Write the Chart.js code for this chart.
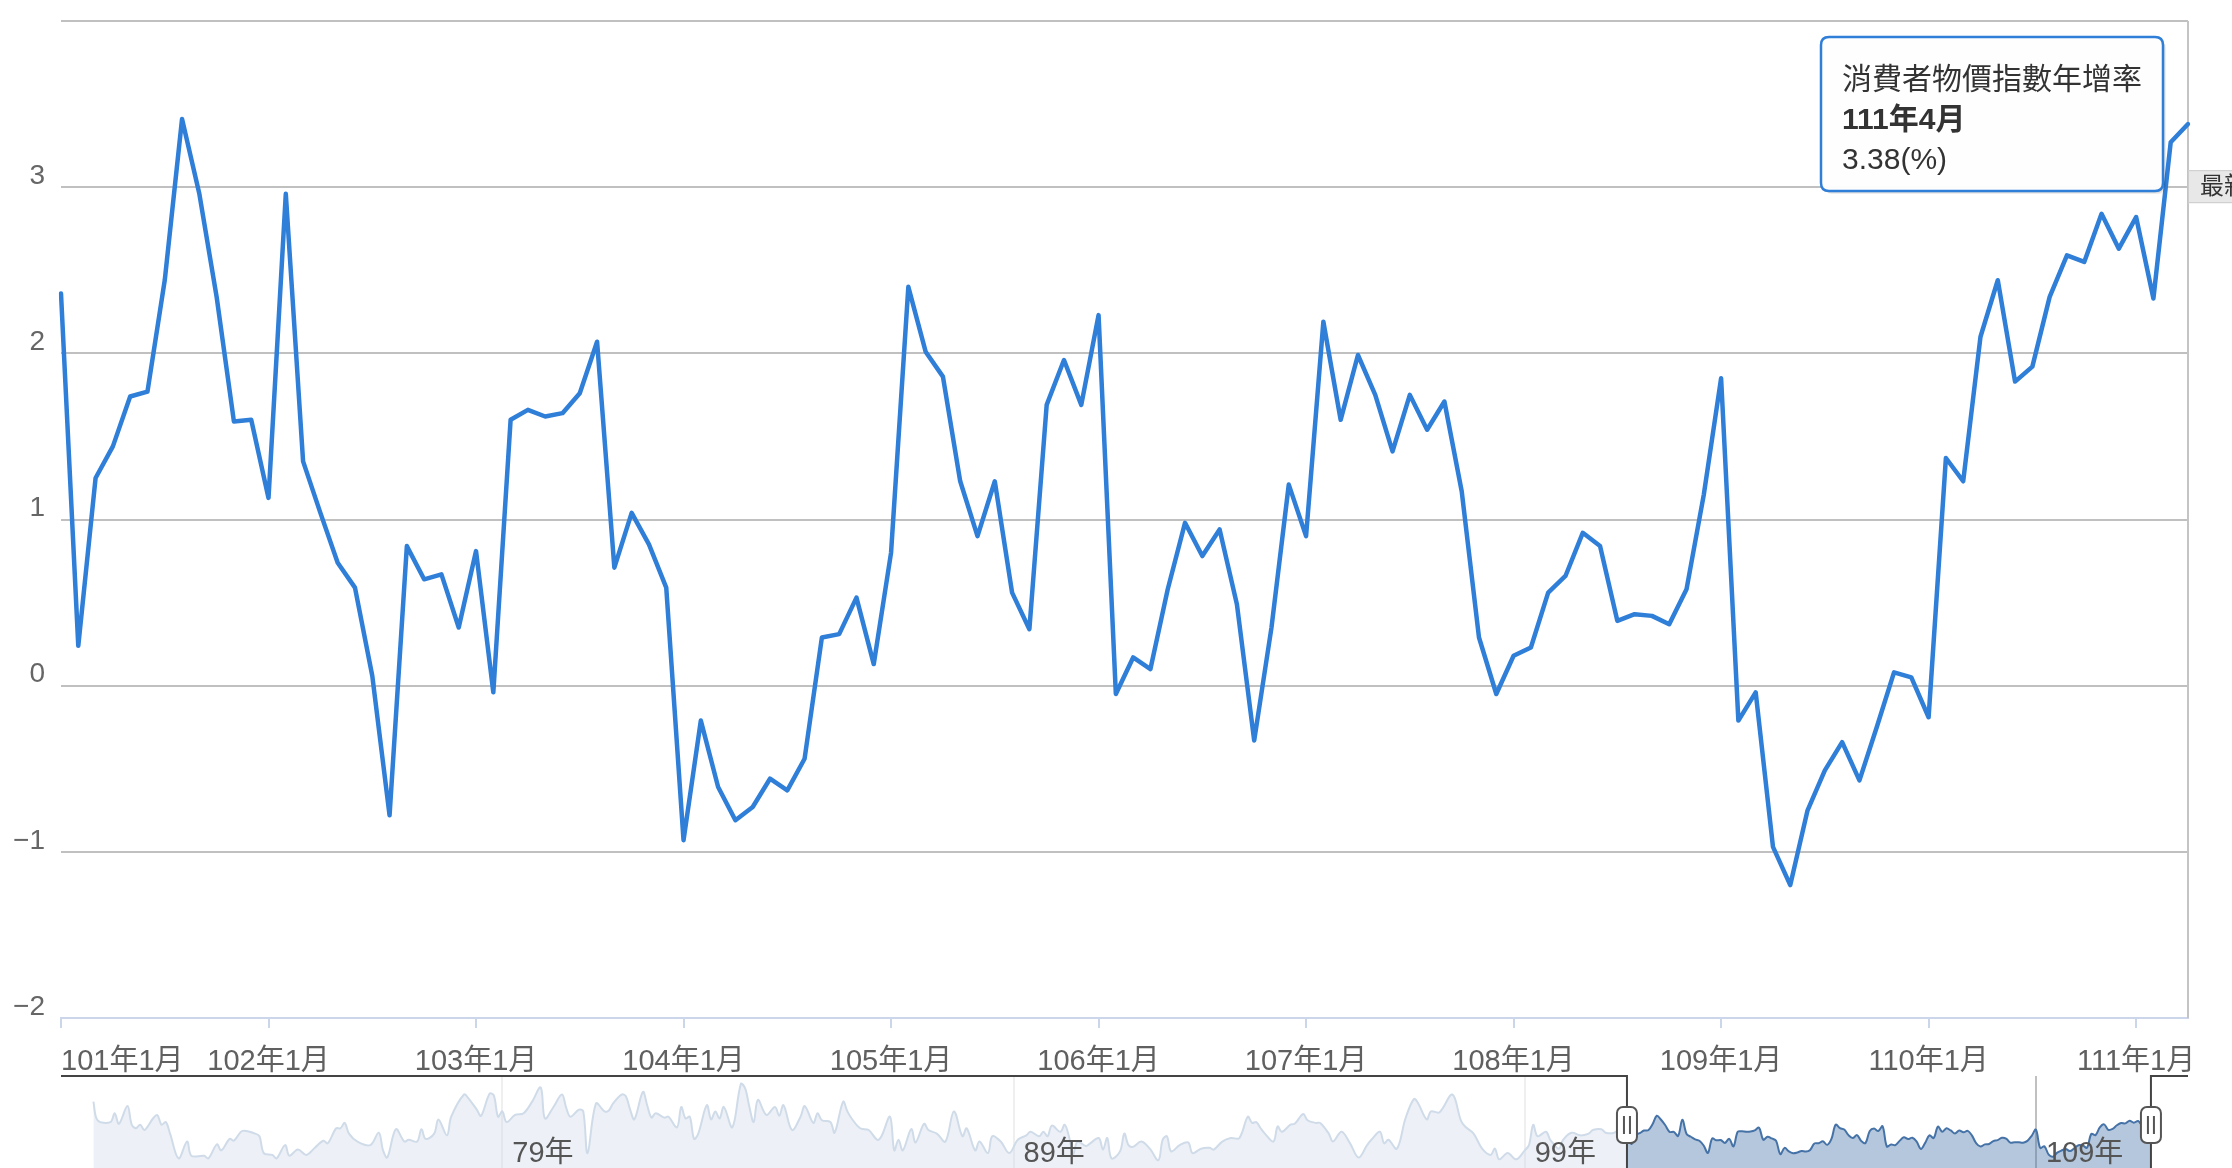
<!DOCTYPE html>
<html lang="zh-Hant">
<head>
<meta charset="utf-8">
<title>消費者物價指數年增率</title>
<script src="https://cdn.jsdelivr.net/npm/chart.js@4.4.1/dist/chart.umd.min.js"></script>
<style>
    html, body { margin: 0; padding: 0; background: #fff; overflow: hidden; }
    #wrap { position: relative; width: 2232px; height: 1168px; }
    canvas { display: block; position: absolute; left: 0; }
    #mainChart { top: 0; }
    #navChart { top: 1070px; }
</style>
</head>
<body>
<div id="wrap">
    <canvas id="mainChart" width="2232" height="1076"></canvas>
    <canvas id="navChart" width="2232" height="110"></canvas>
</div>
<script>
// --- Data ---
const seriesName = '消費者物價指數年增率';
const firstYear = 101; // 民國年

// monthly YoY (%), 101年1月 .. 111年4月
const cpiYoY = [
    2.36, 0.24, 1.25, 1.44, 1.74, 1.77, 2.44, 3.41, 2.96, 2.34, 1.59, 1.60,
    1.13, 2.96, 1.35, 1.04, 0.74, 0.59, 0.06, -0.78, 0.84, 0.64, 0.67, 0.35,
    0.81, -0.04, 1.60, 1.66, 1.62, 1.64, 1.76, 2.07, 0.71, 1.04, 0.85, 0.59,
    -0.93, -0.21, -0.61, -0.81, -0.73, -0.56, -0.63, -0.44, 0.29, 0.31, 0.53, 0.13,
    0.80, 2.40, 2.01, 1.86, 1.23, 0.90, 1.23, 0.56, 0.34, 1.69, 1.96, 1.69,
    2.23, -0.05, 0.17, 0.10, 0.58, 0.98, 0.78, 0.94, 0.49, -0.33, 0.35, 1.21,
    0.90, 2.19, 1.60, 1.99, 1.75, 1.41, 1.75, 1.54, 1.71, 1.17, 0.29, -0.05,
    0.18, 0.23, 0.56, 0.66, 0.92, 0.84, 0.39, 0.43, 0.42, 0.37, 0.58, 1.15,
    1.85, -0.21, -0.04, -0.97, -1.20, -0.75, -0.51, -0.34, -0.57, -0.25, 0.08, 0.05,
    -0.19, 1.37, 1.23, 2.10, 2.44, 1.83, 1.92, 2.34, 2.59, 2.55, 2.84, 2.63,
    2.82, 2.33, 3.27, 3.38
];

const xTickIdx = [0, 12, 24, 36, 48, 60, 72, 84, 96, 108, 120, 123];
const xTickLabels = ['101年1月', '102年1月', '103年1月', '104年1月', '105年1月', '106年1月',
    '107年1月', '108年1月', '109年1月', '110年1月', '111年1月', ''];
const yTicks = [-2, -1, 0, 1, 2, 3, 4];
const yTickLabels = ['\u22122', '\u22121', '0', '1', '2', '3', ''];

// navigator: months counted from 71年1月, values
const navHistMonths = [
    0, 1, 4, 5, 6, 8, 9, 10, 11, 12,
    14, 15, 16, 17, 18, 20, 22, 23, 26, 27,
    29, 30, 32, 33, 35, 38, 39, 40, 42, 43,
    45, 46, 48, 50, 52, 54, 55, 57, 58, 59,
    60, 62, 65, 67, 68, 69, 71, 73, 74, 76,
    77, 78, 80, 81, 83, 84, 87, 88, 90, 91,
    93, 94, 95, 96, 97, 99, 101, 103, 105, 106,
    108, 110, 111, 112, 114, 115, 116, 118, 120, 121,
    122, 124, 125, 126, 127, 129, 130, 131, 132, 134,
    135, 137, 138, 139, 140, 141, 142, 144, 145, 146,
    147, 148, 150, 152, 153, 154, 155, 156, 158, 160,
    161, 162, 164, 166, 167, 169, 170, 171, 173, 174,
    176, 177, 178, 180, 182, 184, 185, 187, 188, 189,
    190, 192, 193, 195, 196, 198, 200, 202, 204, 205,
    207, 208, 210, 211, 213, 215, 217, 219, 220, 222,
    223, 224, 225, 227, 228, 229, 230, 231, 233, 234,
    236, 237, 238, 239, 241, 242, 243, 244, 246, 248,
    250, 251, 252, 253, 255, 257, 258, 260, 262, 263,
    265, 267, 269, 271, 272, 273, 274, 275, 277, 278,
    279, 281, 282, 284, 285, 287, 288, 290, 291, 293,
    295, 297, 299, 300, 302, 303, 304, 306, 308, 310,
    311, 313, 314, 316, 319, 321, 322, 324, 326, 328,
    329, 330, 332, 334, 336, 337, 338, 339, 341, 342,
    344, 345, 347, 349, 351, 352, 354, 355, 357
];
const navHistValues = [
    5.0, 2.9, 2.7, 3.7, 2.5, 4.5, 2.4, 2.0, 2.4, 1.8,
    3.1, 3.5, 2.4, 2.7, 1.4, -1.4, 0.5, -1.1, -1.1, -1.4,
    0.2, -0.5, 0.8, 0.6, 1.7, 1.4, 1.1, -0.8, -1.0, -1.4,
    0.1, -1.1, -0.4, -1.0, -0.2, 0.6, 0.3, 2.0, 2.0, 2.6,
    1.4, 0.5, 0.1, 1.5, -0.5, -1.3, 1.9, 0.5, 0.7, 0.5,
    1.9, 0.8, 1.4, 3.0, 1.2, 3.3, 5.8, 5.4, 4.1, 3.4,
    5.9, 5.7, 3.3, 3.9, 2.7, 3.5, 3.7, 5.0, 6.6, 3.1,
    4.4, 5.8, 4.3, 3.3, 4.1, 3.9, -0.8, 4.8, 3.9, 4.0,
    4.8, 5.8, 5.6, 4.1, 3.0, 6.1, 4.6, 3.2, 3.7, 3.2,
    3.3, 2.1, 4.4, 3.1, 3.3, 0.8, 1.4, 4.6, 3.0, 3.9,
    3.1, 4.4, 2.1, 7.0, 6.5, 4.4, 2.7, 5.2, 3.5, 4.4,
    3.4, 4.6, 1.8, 3.3, 4.5, 2.6, 3.7, 2.9, 2.7, 1.5,
    5.0, 3.9, 3.1, 2.0, 1.8, 0.7, 1.1, 3.3, -0.5, 0.7,
    -0.5, 1.9, 0.4, 2.5, 1.8, 1.4, 0.5, 3.9, 1.1, 2.0,
    -0.5, 0.5, -0.8, 1.1, 0.5, -0.8, 0.7, 1.2, 1.6, 1.1,
    1.6, 1.1, 2.3, 1.6, 2.4, 1.1, -0.9, 0.5, 0.0, 0.3,
    0.9, -0.4, 0.9, -1.4, -0.6, 1.4, 0.1, -0.1, 0.5, -0.3,
    -1.6, 0.7, 1.1, -0.6, 0.1, 0.4, -0.8, -0.3, -0.2, -0.4,
    0.5, 0.9, 0.9, 3.3, 2.6, 2.7, 2.0, 1.4, 0.5, 2.2,
    1.6, 2.4, 2.5, 3.6, 2.9, 2.6, 2.6, 1.4, 0.5, 1.6,
    0.3, -1.3, 0.1, 0.7, 1.6, 0.3, 0.7, -0.3, 3.1, 5.3,
    4.8, 3.0, 3.9, 3.8, 5.8, 2.9, 2.2, 1.4, -0.3, -1.0,
    -0.3, -1.5, -0.8, -1.5, -0.5, 0.1, 2.4, 1.1, 1.6, 0.7,
    -0.3, 0.7, 1.5, 1.2, 1.4, 1.8, 1.9, 1.5, 1.5
];
const navSelStart = 360; // 101年1月 counted from 71年1月
const navTickMonths = [96, 216, 336, 456];
const navTickLabels = ['79年', '89年', '99年', '109年'];

// --- Shared styles ---
const FONT = '"Liberation Sans", "Noto Sans CJK TC", sans-serif';
const LINE_BLUE = '#2f7ed8';
const NAV_BLUE = '#4572a7';

const monthLabels = cpiYoY.map((_, i) => `${firstYear + Math.floor(i / 12)}年${i % 12 + 1}月`);

// --- Main chart ---
Chart.Tooltip.positioners.besidePoint = function (items) {
    if (!items.length) return false;
    const el = items[0].element;
    return { x: el.x, y: el.y - 10 };
};

const mainDecor = {
    id: 'mainDecor',
    beforeDatasetsDraw(chart) {
        const { ctx, chartArea } = chart;
        // right frame line
        ctx.save();
        ctx.strokeStyle = '#c4c4c4';
        ctx.lineWidth = 2;
        ctx.beginPath();
        ctx.moveTo(chartArea.right, chartArea.top);
        ctx.lineTo(chartArea.right, chartArea.bottom);
        ctx.stroke();
        ctx.restore();
    },
    afterDraw(chart) {
        const { ctx, chartArea } = chart;
        // "最新" flag on the right edge
        const yc = chart.scales.y.getPixelForValue(3) - 1;
        ctx.save();
        ctx.fillStyle = '#e8e8e8';
        ctx.strokeStyle = '#cccccc';
        ctx.lineWidth = 1;
        ctx.fillRect(chartArea.right, yc - 16, 80, 33);
        ctx.strokeRect(chartArea.right + 0.5, yc - 16 + 0.5, 80, 32);
        ctx.fillStyle = '#333';
        ctx.font = '24px ' + FONT;
        ctx.textBaseline = 'middle';
        ctx.fillText('最新', chartArea.right + 12, yc + 1);
        ctx.restore();
    },
    beforeTooltipDraw(chart, args) {
        const tt = args.tooltip;
        const { ctx } = chart;
        ctx.save();
        ctx.fillStyle = 'rgba(0,0,0,0.07)';
        for (let k = 1; k <= 3; k++) {
            ctx.beginPath();
            ctx.roundRect(tt.x + k, tt.y + k, tt.width, tt.height, 8);
            ctx.fill();
        }
        ctx.restore();
    }
};

const mainChart = new Chart(document.getElementById('mainChart'), {
    type: 'line',
    data: {
        labels: monthLabels,
        datasets: [{
            label: seriesName,
            data: cpiYoY,
            borderColor: LINE_BLUE,
            borderWidth: 4.5,
            borderJoinStyle: 'round',
            borderCapStyle: 'round',
            pointRadius: 0,
            pointHoverRadius: 0,
            tension: 0,
            fill: false
        }]
    },
    options: {
        responsive: false,
        devicePixelRatio: 1,
        animation: false,
        events: [],
        layout: { autoPadding: false, padding: { top: 21, right: 44, bottom: 0, left: 0 } },
        scales: {
            x: {
                type: 'category',
                afterBuildTicks: (scale) => { scale.ticks = xTickIdx.map(v => ({ value: v })); },
                afterFit: (scale) => { scale.height = 58; scale.paddingLeft = 0; scale.paddingRight = 0; },
                ticks: {
                    autoSkip: false,
                    maxRotation: 0,
                    align: 'inner',
                    padding: 17,
                    color: '#606060',
                    font: { family: FONT, size: 29 },
                    callback: (value, index) => xTickLabels[index]
                },
                grid: {
                    drawOnChartArea: false,
                    drawTicks: true,
                    tickLength: 10,
                    lineWidth: 2,
                    tickColor: (ctx) => ctx.index === xTickIdx.length - 1 ? 'rgba(0,0,0,0)' : '#ccd6eb'
                },
                border: { display: true, color: '#ccd6eb', width: 2 }
            },
            y: {
                min: -2,
                max: 4,
                afterBuildTicks: (scale) => { scale.ticks = yTicks.map(v => ({ value: v })); },
                afterFit: (scale) => { scale.width = 61; scale.paddingTop = 0; scale.paddingBottom = 0; },
                ticks: {
                    padding: 16,
                    labelOffset: -11,
                    color: '#666',
                    font: { family: FONT, size: 28 },
                    callback: (value, index) => yTickLabels[index]
                },
                grid: { color: '#c0c0c0', lineWidth: 2, drawTicks: false },
                border: { display: false }
            }
        },
        plugins: {
            legend: { display: false },
            tooltip: {
                enabled: true,
                position: 'besidePoint',
                xAlign: 'right',
                yAlign: 'center',
                caretSize: 0,
                caretPadding: 25,
                backgroundColor: 'rgba(255,255,255,0.97)',
                borderColor: LINE_BLUE,
                borderWidth: 2.5,
                cornerRadius: 8,
                padding: { left: 21, right: 21, top: 26, bottom: 12 },
                displayColors: false,
                titleColor: '#333',
                bodyColor: '#333',
                footerColor: '#333',
                titleFont: { family: FONT, size: 30, weight: 'normal' },
                bodyFont: { family: FONT, size: 30, weight: 'bold' },
                footerFont: { family: FONT, size: 30, weight: 'normal' },
                titleMarginBottom: 4,
                bodySpacing: 0,
                footerMarginTop: 4,
                callbacks: {
                    title: () => seriesName,
                    label: (item) => item.label,
                    footer: (items) => items[0].parsed.y.toFixed(2) + '(%)'
                }
            }
        }
    },
    plugins: [mainDecor]
});

// show the latest point, as in the screenshot
mainChart.tooltip.setActiveElements([{ datasetIndex: 0, index: cpiYoY.length - 1 }], { x: 0, y: 0 });
mainChart.update();

// --- Navigator strip ---
const navData = navHistMonths.map((m, i) => ({ x: m, y: navHistValues[i] }))
    .concat(cpiYoY.map((v, i) => ({ x: navSelStart + i, y: v })));
const navSelEnd = navSelStart + cpiYoY.length - 1;

function drawHandle(ctx, x, yc) {
    ctx.fillStyle = '#fff';
    ctx.strokeStyle = '#555';
    ctx.lineWidth = 2;
    ctx.beginPath();
    ctx.roundRect(x - 10, yc - 18, 20, 36, 6);
    ctx.fill();
    ctx.stroke();
    ctx.beginPath();
    ctx.moveTo(x - 3, yc - 9);
    ctx.lineTo(x - 3, yc + 9);
    ctx.moveTo(x + 3, yc - 9);
    ctx.lineTo(x + 3, yc + 9);
    ctx.stroke();
}

const navDecor = {
    id: 'navDecor',
    afterDatasetsDraw(chart) {
        const { ctx, chartArea } = chart;
        const { left, right, top, bottom } = chartArea;
        const xs = chart.scales.x;
        const a = xs.getPixelForValue(navSelStart);
        const b = xs.getPixelForValue(navSelEnd);
        ctx.save();
        // fade the unselected parts
        ctx.fillStyle = 'rgba(255,255,255,0.75)';
        ctx.fillRect(left, top - 1, a - left, bottom - top + 1);
        ctx.fillRect(b, top - 1, right - b, bottom - top + 1);
        // outline
        ctx.strokeStyle = '#444';
        ctx.lineWidth = 2;
        ctx.beginPath();
        ctx.moveTo(left, top);
        ctx.lineTo(a, top);
        ctx.lineTo(a, bottom + 4);
        ctx.moveTo(b, bottom + 4);
        ctx.lineTo(b, top);
        ctx.lineTo(right, top);
        ctx.stroke();
        // handles
        const yc = top + 49;
        drawHandle(ctx, a, yc);
        drawHandle(ctx, b, yc);
        ctx.restore();
    }
};

new Chart(document.getElementById('navChart'), {
    type: 'line',
    data: {
        datasets: [{
            data: navData,
            borderColor: NAV_BLUE,
            backgroundColor: 'rgba(69,114,167,0.4)',
            borderWidth: 2,
            pointRadius: 0,
            tension: 0.35,
            fill: 'start'
        }]
    },
    options: {
        responsive: false,
        devicePixelRatio: 1,
        animation: false,
        events: [],
        layout: { autoPadding: false, padding: { top: 6, right: 44, bottom: 0, left: 61 } },
        scales: {
            x: {
                type: 'linear',
                min: -7.6,
                max: 491.7,
                afterBuildTicks: (scale) => { scale.ticks = navTickMonths.map(v => ({ value: v })); },
                afterFit: (scale) => { scale.height = 4; scale.paddingLeft = 0; scale.paddingRight = 0; },
                ticks: {
                    autoSkip: false,
                    maxRotation: 0,
                    align: 'start',
                    labelOffset: 10,
                    mirror: true,
                    padding: 5,
                    z: 1,
                    color: '#555',
                    font: { family: FONT, size: 29 },
                    callback: (value, index) => navTickLabels[index]
                },
                grid: { color: '#c0c0c0', lineWidth: 2, drawTicks: false },
                border: { display: false }
            },
            y: {
                display: false,
                min: -3.38,
                max: 7.89
            }
        },
        plugins: {
            legend: { display: false },
            tooltip: { enabled: false }
        }
    },
    plugins: [navDecor]
});
</script>
</body>
</html>
